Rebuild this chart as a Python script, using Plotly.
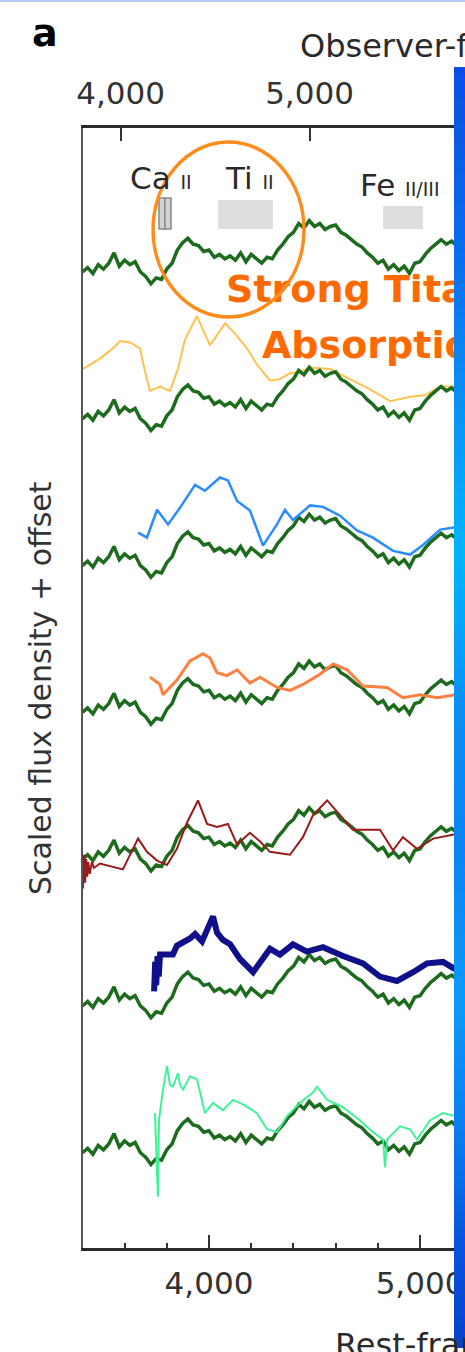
import plotly.graph_objects as go
import numpy as np

# ---------------- data (rest-frame wavelength in Å, scaled flux) ----------------
Z_RED = 0.117  # observer/rest scaling for the top axis

green_wl = [3400, 3425, 3450, 3475, 3500, 3525, 3550, 3575, 3600, 3625,
            3650, 3675, 3700, 3725, 3750, 3775, 3800, 3825, 3850, 3875,
            3900, 3925, 3950, 3975, 4000, 4025, 4050, 4075, 4100, 4125,
            4150, 4175, 4200, 4225, 4250, 4275, 4300, 4325, 4350, 4375,
            4400, 4425, 4450, 4475, 4500, 4525, 4550, 4575, 4600, 4625,
            4650, 4675, 4700, 4725, 4750, 4775, 4800, 4825, 4850, 4875,
            4900, 4925, 4950, 4975, 5000, 5025, 5050, 5075, 5100, 5125,
            5150, 5175]
green_f = [1.00, 1.03, 0.99, 1.05, 1.02, 1.06, 1.13, 1.04, 1.08, 1.05,
           1.07, 1.00, 0.97, 0.92, 0.96, 0.95, 1.02, 1.06, 1.15, 1.20,
           1.23, 1.19, 1.18, 1.14, 1.15, 1.10, 1.12, 1.09, 1.11, 1.08,
           1.13, 1.07, 1.12, 1.09, 1.06, 1.10, 1.09, 1.15, 1.19, 1.24,
           1.27, 1.33, 1.30, 1.35, 1.31, 1.33, 1.29, 1.31, 1.32, 1.27,
           1.25, 1.22, 1.19, 1.17, 1.13, 1.10, 1.06, 1.08, 1.02, 1.05,
           1.01, 1.04, 0.99, 1.06, 1.07, 1.12, 1.16, 1.19, 1.22, 1.19,
           1.21, 1.18]

yellow_wl = [3403, 3483, 3545, 3578, 3626, 3673, 3697, 3720, 3768, 3815, 3853, 3886,
             3943, 4005, 4076, 4123, 4180, 4227, 4289, 4336, 4384, 4431, 4479, 4573,
             4668, 4763, 4858, 4953, 5024, 5095, 5166]
yellow_f = [1.34, 1.41, 1.48, 1.53, 1.52, 1.48, 1.32, 1.19, 1.22, 1.19, 1.34, 1.54,
            1.70, 1.50, 1.65, 1.58, 1.48, 1.37, 1.26, 1.27, 1.31, 1.32, 1.35, 1.34,
            1.27, 1.20, 1.12, 1.15, 1.16, 1.22, 1.22]

blue_wl = [3664, 3706, 3754, 3806, 3863, 3934, 3981, 4052, 4090, 4133, 4194, 4256,
           4322, 4360, 4398, 4479, 4540, 4621, 4701, 4777, 4872, 4953, 5014, 5095, 5166]
blue_f = [1.225, 1.19, 1.38, 1.28, 1.395, 1.55, 1.51, 1.60, 1.58, 1.44, 1.375, 1.136,
          1.28, 1.38, 1.31, 1.41, 1.40, 1.34, 1.24, 1.19, 1.10, 1.075, 1.14, 1.245, 1.26]

coral_wl = [3720, 3768, 3782, 3848, 3910, 3972, 4005, 4038, 4085, 4133, 4194, 4242,
            4322, 4384, 4445, 4526, 4588, 4654, 4730, 4844, 4919, 5000, 5081, 5166]
coral_f = [1.24, 1.19, 1.12, 1.22, 1.35, 1.40, 1.37, 1.27, 1.25, 1.29, 1.20, 1.24,
           1.17, 1.15, 1.19, 1.26, 1.33, 1.29, 1.18, 1.17, 1.10, 1.12, 1.10, 1.12]

darkred_wl = [3403, 3408, 3413, 3418, 3423, 3428, 3435, 3445, 3455, 3483,
              3592, 3664, 3706, 3754, 3801, 3848, 3896, 3948, 3991, 4038,
              4090, 4133, 4194, 4242, 4289, 4384, 4445, 4493, 4560, 4607,
              4682, 4810, 4872, 4919, 4986, 5062, 5166]
darkred_f = [0.80, 1.03, 0.84, 1.00, 0.88, 0.98, 0.90, 0.98, 0.94, 0.97,
             0.93, 1.14, 1.05, 0.99, 0.96, 1.07, 1.25, 1.40, 1.24, 1.22,
             1.24, 1.10, 1.18, 1.12, 1.05, 1.03, 1.15, 1.30, 1.40, 1.32,
             1.20, 1.20, 1.06, 1.15, 1.07, 1.14, 1.17]

navy_wl = [3740, 3745, 3750, 3756, 3762, 3768, 3829, 3848, 3910, 3934,
           3967, 3995, 4019, 4038, 4066, 4100, 4147, 4209, 4289, 4336,
           4398, 4464, 4540, 4635, 4730, 4810, 4891, 4967, 5033, 5109, 5166]
navy_f = [1.10, 1.30, 1.14, 1.34, 1.20, 1.35, 1.35, 1.41, 1.46, 1.49,
          1.44, 1.52, 1.61, 1.50, 1.45, 1.42, 1.32, 1.23, 1.39, 1.35,
          1.42, 1.37, 1.40, 1.34, 1.29, 1.20, 1.17, 1.23, 1.29, 1.30, 1.25]

spring_wl = [3744, 3758, 3763, 3782, 3801, 3815, 3829, 3853, 3863, 3877,
             3910, 3943, 3981, 4019, 4066, 4114, 4161, 4227, 4275, 4322,
             4370, 4431, 4493, 4512, 4560, 4635, 4716, 4777, 4825, 4834,
             4844, 4905, 4953, 4986, 5047, 5109, 5166]
spring_f = [1.27, 0.70, 1.22, 1.43, 1.59, 1.46, 1.45, 1.54, 1.46, 1.43,
            1.52, 1.50, 1.27, 1.34, 1.29, 1.36, 1.33, 1.27, 1.16, 1.14,
            1.25, 1.34, 1.41, 1.45, 1.36, 1.31, 1.22, 1.14, 1.09, 0.90,
            1.09, 1.18, 1.16, 1.09, 1.22, 1.27, 1.25]

row_offsets = [6, 5, 4, 3, 2, 1, 0]

# ion bands (rest wavelength ranges)
ion_labels = ["Ca", "Ti", "Fe"]
ion_stages = ["II", "II", "II/III"]
ca_band_edges = [3763, 3791, 3820]
ti_band = [4043, 4303]
fe_band = [4825, 5014]

# axis ticks
bottom_tickvals = [4000, 5000]
bottom_ticktext = ["4,000", "5,000"]
bottom_minor = [3600, 3800, 4200, 4400, 4600, 4800]
top_tickvals = [4000, 5000, 6000]
top_ticktext = ["4,000", "5,000", "6,000"]

callout_lines = ["Strong Titanium", "Absorption"]

# ---------------- figure ----------------
W, H = 465, 1352
FONT = "DejaVu Sans"
GREEN = "#1d6b1d"

X_RANGE = [3403, 5161]
Y_RANGE = [0.351, 7.981]


def py(p):
    return 1 - p / H


fig = go.Figure()

comparisons = [
    None,
    (yellow_wl, yellow_f, "#ffc24e", 2.0),
    (blue_wl, blue_f, "#2a8cff", 2.5),
    (coral_wl, coral_f, "#ff8040", 3.0),
    (darkred_wl, darkred_f, "#9a1a1a", 2.0),
    (navy_wl, navy_f, "#10108a", 6.0),
    (spring_wl, spring_f, "#42f29a", 2.0),
]

for off, comp in zip(row_offsets, comparisons):
    g = go.Scatter(x=green_wl, y=np.array(green_f) + off, mode="lines",
                   line=dict(color=GREEN, width=3.5), hoverinfo="skip")
    if comp is None:
        fig.add_trace(g)
        continue
    wl, fl, col, lw = comp
    c = go.Scatter(x=wl, y=np.array(fl) + off, mode="lines",
                   line=dict(color=col, width=lw), hoverinfo="skip")
    if off == 5:
        fig.add_trace(c)
        fig.add_trace(g)
    else:
        fig.add_trace(g)
        fig.add_trace(c)

# callout text (clipped at plot edge)
fig.add_trace(go.Scatter(
    x=[4081, 4251], y=[6.860, 6.479], mode="text",
    text=["<b>%s</b>" % t for t in callout_lines],
    textposition="middle right",
    textfont=dict(family=FONT, size=38, color="#ff6a00"),
    cliponaxis=True, hoverinfo="skip"))

# dummy trace so the observer-frame axis is drawn
fig.add_trace(go.Scatter(x=top_tickvals, y=[None] * len(top_tickvals),
                         xaxis="x2", yaxis="y", mode="lines", hoverinfo="skip"))

# gradient bar at right edge
fig.add_trace(go.Scatter(
    x=[0, 1, 1, 0, 0], y=[0, 0, 1, 1, 0], xaxis="x3", yaxis="y3",
    mode="lines", line=dict(width=0), fill="toself",
    fillgradient=dict(type="vertical", colorscale=[
        [0.0, "#0842cc"], [0.08, "#0852dc"], [0.155, "#0a78ee"],
        [0.27, "#0c9afc"], [0.39, "#0a84f2"], [0.5, "#0a90f6"],
        [0.62, "#00b6ff"], [0.74, "#0a90f6"], [0.86, "#0a6cee"],
        [1.0, "#0a4ee4"]]),
    hoverinfo="skip"))

shapes = []
# band boxes
yb0 = 7.293
for a, b in zip(ca_band_edges[:-1], ca_band_edges[1:]):
    shapes.append(dict(type="rect", xref="x", yref="y", x0=a, x1=b, y0=yb0, y1=7.504,
                       fillcolor="#d2d2d2", line=dict(color="#8a8a8a", width=1.5)))
shapes.append(dict(type="rect", xref="x", yref="y", x0=ti_band[0], x1=ti_band[1],
                   y0=yb0, y1=7.490, fillcolor="#dddddd", line=dict(width=0)))
shapes.append(dict(type="rect", xref="x", yref="y", x0=fe_band[0], x1=fe_band[1],
                   y0=yb0, y1=7.450, fillcolor="#dddddd", line=dict(width=0)))
# orange ellipse
shapes.append(dict(type="circle", xref="x", yref="y", x0=3735, x1=4450, y0=6.693, y1=7.886,
                   line=dict(color="#ff8c1a", width=3.5), fillcolor="rgba(0,0,0,0)"))
# thin line at top edge
shapes.append(dict(type="rect", xref="paper", yref="paper", x0=0, x1=1, y0=py(2), y1=1,
                   fillcolor="#b8ccee", line=dict(width=0)))

small = "font-size:19px"
annotations = [
    dict(text="%s <span style='%s'>%s</span>" % (ion_labels[0], small, ion_stages[0]),
         x=3616, y=7.64, xref="x", yref="y", xanchor="left", yanchor="middle"),
    dict(text="%s <span style='%s'>%s</span>" % (ion_labels[1], small, ion_stages[1]),
         x=4066, y=7.64, xref="x", yref="y", xanchor="left", yanchor="middle"),
    dict(text="%s <span style='%s'>%s</span>" % (ion_labels[2], small, ion_stages[2]),
         x=4706, y=7.593, xref="x", yref="y", xanchor="left", yanchor="middle"),
    dict(text="<b>a</b>", x=45 / W, y=py(33), xref="paper", yref="paper",
         xanchor="center", yanchor="middle", font=dict(family=FONT, size=38, color="#000")),
    dict(text="Observer-frame wavelength (Å)", x=298 / W, y=py(46), xref="paper", yref="paper",
         xanchor="left", yanchor="middle", font=dict(family=FONT, size=32, color="#2a2a2a")),
    dict(text="Rest-frame wavelength (Å)", x=333 / W, y=py(1345), xref="paper", yref="paper",
         xanchor="left", yanchor="middle", font=dict(family=FONT, size=32, color="#2a2a2a")),
    dict(text="Scaled flux density + offset", x=40 / W, y=py(688), xref="paper", yref="paper",
         xanchor="center", yanchor="middle", textangle=-90,
         font=dict(family=FONT, size=30, color="#333")),
]
for a in annotations:
    a.setdefault("showarrow", False)
    a.setdefault("font", dict(family=FONT, size=31, color="#2a2a2a"))

xdom = [83 / W, 454 / W]
ydom = [py(1248), py(128)]

fig.update_layout(
    width=W, height=H, margin=dict(l=0, r=0, t=0, b=0, autoexpand=False),
    paper_bgcolor="white", plot_bgcolor="white", showlegend=False,
    shapes=shapes, annotations=annotations,
    xaxis=dict(domain=xdom, range=X_RANGE, anchor="y", showline=True, linecolor="#2b2b2b",
               linewidth=2.5, showgrid=False, zeroline=False, ticks="inside",
               tickvals=bottom_tickvals, ticktext=bottom_ticktext, ticklen=13, tickwidth=2,
               tickcolor="#333", tickfont=dict(family=FONT, size=31, color="#333"),
               minor=dict(tickvals=bottom_minor, ticks="inside", ticklen=5, tickwidth=2,
                          tickcolor="#333", showgrid=False),
               ticklabelstandoff=6, automargin=False),
    xaxis2=dict(domain=xdom, overlaying="x", side="top", anchor="y",
                range=[r * (1 + Z_RED) for r in X_RANGE], showline=True, linecolor="#2b2b2b",
                linewidth=2.5, showgrid=False, zeroline=False, ticks="inside",
                tickvals=top_tickvals, ticktext=top_ticktext, ticklen=13, tickwidth=2,
                tickcolor="#333", tickfont=dict(family=FONT, size=31, color="#333"),
                ticklabelstandoff=9, automargin=False),
    yaxis=dict(domain=ydom, range=Y_RANGE, anchor="x", showline=True, linecolor="#555",
               linewidth=2, showgrid=False, zeroline=False, showticklabels=False, ticks="",
               automargin=False),
    xaxis3=dict(domain=[454 / W, 1], range=[0, 1], visible=False, anchor="y3",
                automargin=False),
    yaxis3=dict(domain=[py(1348), py(67)], range=[0, 1], visible=False, anchor="x3",
                automargin=False),
)

fig.write_html("out.html")
